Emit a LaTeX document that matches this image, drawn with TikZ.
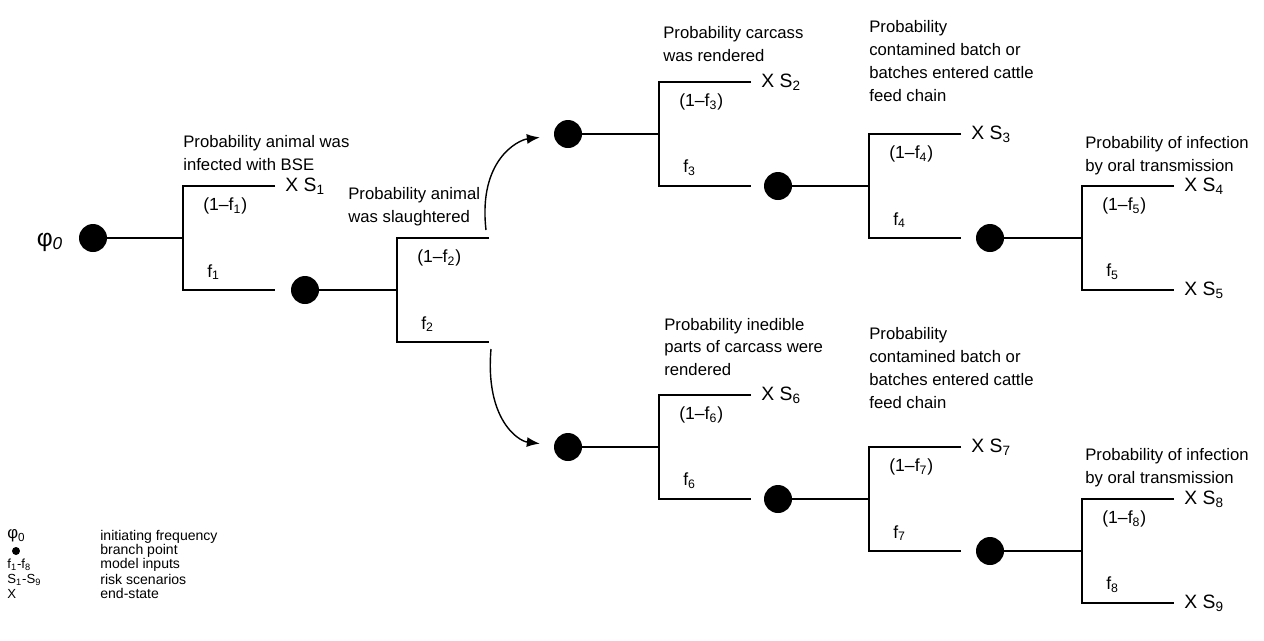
\documentclass[tikz,border=0pt]{standalone}
\usepackage{fontspec}
\setmainfont{Liberation Sans}
\usetikzlibrary{arrows.meta}

\tikzset{
  bpoint/.style={circle,fill=black,inner sep=0pt,minimum size=0.56cm},
  branch/.style={line width=1.5pt},
  stem/.style={line width=1.2pt},
  flow/.style={line width=0.8pt,-{Latex[length=2.6mm,width=2mm]},shorten >=0.28cm},
  title/.style={anchor=west,align=left,inner sep=0pt,font=\fontsize{9.5}{13}\selectfont},
  prob/.style={anchor=west,inner sep=0pt,font=\fontsize{10}{12}\selectfont},
  endst/.style={anchor=west,inner sep=0pt,xshift=0.2cm,font=\fontsize{11}{12}\selectfont},
  legsym/.style={anchor=west,inner sep=0pt,font=\fontsize{7.5}{8}\selectfont},
  legtxt/.style={anchor=west,inner sep=0pt,font=\fontsize{8}{9}\selectfont}
}

\begin{document}
\begin{tikzpicture}[x=0.02cm,y=-0.02cm]
\useasboundingbox (0,0) rectangle (1264,640);

% brackets of the event tree
\foreach \k/\vx/\vy in {1/183/238,2/397/290,3/659/134,4/869/186,5/1082/238,6/659/447,7/869/499,8/1082/551}{
  \coordinate (v\k) at (\vx,\vy);
  \coordinate (t\k) at (\vx+92,\vy-52);
  \coordinate (b\k) at (\vx+92,\vy+52);
  \draw[branch] (t\k) -- (t\k -| v\k) -- (b\k -| v\k) -- (b\k);
  \node[prob] (p\k) at (\vx+20,\vy-32) {(1--f\textsubscript{\k})};
  \node[prob] (q\k) at (\vx+24,\vy+34) {f\textsubscript{\k}};
}

% branch points
\node[font=\fontsize{14}{16}\selectfont] (phi) at (50,242) {φ\textsubscript{\itshape 0}};
\node[bpoint] (dA) at (93,238) {};
\node[bpoint] (dB) at (305,290) {};
\node[bpoint] (dC) at (568,134) {};
\node[bpoint] (dD) at (778,186) {};
\node[bpoint] (dE) at (990,238) {};
\node[bpoint] (dF) at (568,447) {};
\node[bpoint] (dG) at (778,499) {};
\node[bpoint] (dH) at (990,551) {};
\draw[stem] (dA) -- (v1);
\draw[stem] (dB) -- (v2);
\draw[stem] (dC) -- (v3);
\draw[stem] (dD) -- (v4);
\draw[stem] (dE) -- (v5);
\draw[stem] (dF) -- (v6);
\draw[stem] (dG) -- (v7);
\draw[stem] (dH) -- (v8);

% split after slaughter
\draw[flow] ([xshift=-0.06cm,yshift=0.16cm]t2) .. controls +(-8,-70) and +(-50,6) .. (dC);
\draw[flow] ([xshift=0.04cm,yshift=-0.14cm]b2) .. controls +(-6,70) and +(-50,-6) .. (dF);

% end-states
\node[endst] (x1) at (t1) {X S\textsubscript{1}};
\node[endst] (x2) at (t3) {X S\textsubscript{2}};
\node[endst] (x3) at (t4) {X S\textsubscript{3}};
\node[endst] (x4) at (t5) {X S\textsubscript{4}};
\node[endst] (x5) at (b5) {X S\textsubscript{5}};
\node[endst] (x6) at (t6) {X S\textsubscript{6}};
\node[endst] (x7) at (t7) {X S\textsubscript{7}};
\node[endst] (x8) at (t8) {X S\textsubscript{8}};
\node[endst] (x9) at (b8) {X S\textsubscript{9}};

% questions
\node[title] (q1) at (183,153) {Probability animal was\\infected with BSE};
\node[title] (q2) at (348,207) {Probability animal\\was slaughtered};
\node[title] (q3) at (663,44) {Probability carcass\\was rendered};
\node[title] (q4) at (869,61) {Probability\\contamined batch or\\batches entered cattle\\feed chain};
\node[title] (q5) at (1085,156) {Probability of infection\\by oral transmission};
\node[title] (q6) at (664,347) {Probability inedible\\parts of carcass were\\rendered};
\node[title] (q7) at (869,368) {Probability\\contamined batch or\\batches entered cattle\\feed chain};
\node[title] (q8) at (1085,468) {Probability of infection\\by oral transmission};

% legend
\node[legsym,font=\fontsize{9.5}{10}\selectfont] (lphi) at (7,536) {φ\textsubscript{0}};
\node[bpoint,minimum size=0.16cm] (ldot) at (16,551) {};
\node[legsym] (lf) at (7,565) {f\textsubscript{1}-f\textsubscript{8}};
\node[legsym] (lS) at (7,580) {S\textsubscript{1}-S\textsubscript{9}};
\node[legsym] (lX) at (7,594) {X};
\node[legtxt] (l1) at (100,537) {initiating frequency};
\node[legtxt] (l2) at (100,551) {branch point};
\node[legtxt] (l3) at (100,565) {model inputs};
\node[legtxt] (l4) at (100,579) {risk scenarios};
\node[legtxt] (l5) at (100,593) {end-state};
\end{tikzpicture}
\end{document}
